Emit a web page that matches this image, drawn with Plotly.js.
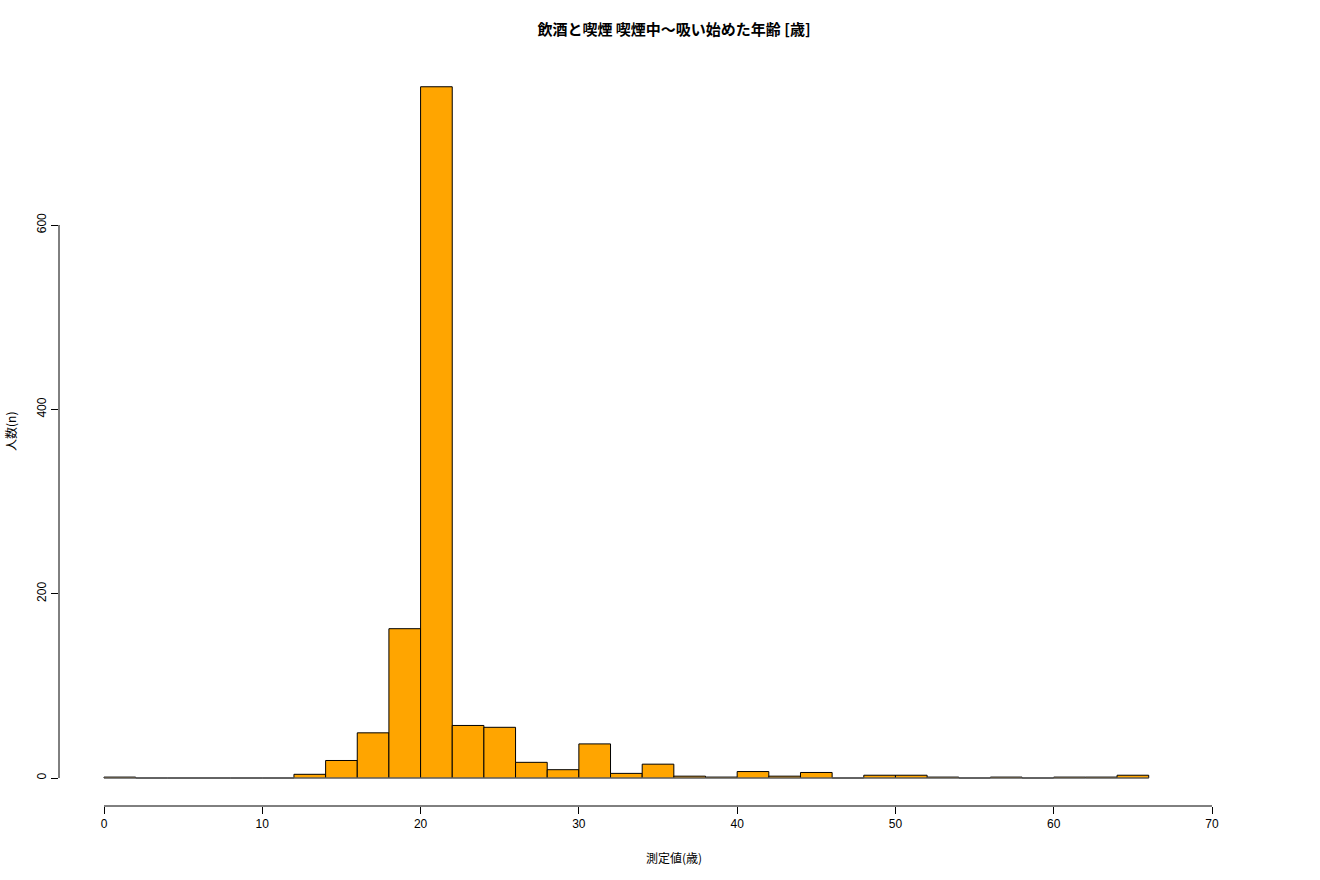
<!DOCTYPE html>
<html><head><meta charset="utf-8">
<script src="https://cdn.plot.ly/plotly-3.0.1.min.js"></script>
<style>html,body{margin:0;padding:0;background:#fff}#chart{width:1320px;height:880px}</style>
</head><body><div id="chart"></div>
<script>
const binStart = 0;
const binWidth = 2;
const counts = [1,0,0,0,0,0,4,19,49,162,750,57,55,17,9,37,5,15,2,1,7,2,6,0,3,3,1,0,1,0,1,1,3];
const xTicks = [0,10,20,30,40,50,60,70];
const yTicks = [0,200,400,600];
const titleText = "飲酒と喫煙 喫煙中〜吸い始めた年齢 [歳]";
const xTitle = "測定値(歳)";
const yTitle = "人数(n)";

const centers = counts.map((_, i) => binStart + binWidth * (i + 0.5));
const binEnd = binStart + binWidth * counts.length;
const font = "Liberation Sans, Arial, Noto Sans CJK JP, sans-serif";
const jfont = "Noto Sans CJK JP, Liberation Sans, sans-serif";

const traces = [
  {type:'scatter', mode:'lines', x:[binStart, binEnd], y:[0,0], line:{color:'#888', width:1}, hoverinfo:'skip'},
  {type:'bar', x:centers, y:counts, width:binWidth,
   marker:{color:'#FFA500', line:{color:'#000', width:1}}}
];

const layout = {
  width:1320, height:880, showlegend:false,
  paper_bgcolor:'#fff', plot_bgcolor:'#fff',
  margin:{l:59, r:90, t:59, b:74, pad:0},
  bargap:0,
  title:{text:'<b>'+titleText+'</b>', font:{family:jfont, size:15, color:'#000'}, x:674/1320, xanchor:'center', xref:'container', y:1-30/880, yanchor:'middle', yref:'container'},
  xaxis:{range:[-45/15.829, (1230-104)/15.829], tickvals:xTicks, ticks:'outside', ticklen:7, tickcolor:'#000', tickwidth:1,
         showline:false, showgrid:false, zeroline:false, tickfont:{family:font, size:12, color:'#000'}, fixedrange:true},
  yaxis:{range:[-28/0.92167, 719/0.92167], tickvals:yTicks, ticks:'outside', ticklen:7, tickcolor:'#000', tickwidth:1,
         showline:false, showgrid:false, zeroline:false, tickangle:-90, tickfont:{family:font, size:12, color:'#000'}, fixedrange:true},
  shapes:[
    {type:'line', xref:'x', yref:'paper', x0:xTicks[0], x1:xTicks[xTicks.length-1], y0:0, y1:0, line:{color:'#000', width:1}},
    {type:'line', xref:'paper', yref:'y', x0:0, x1:0, y0:yTicks[0], y1:yTicks[yTicks.length-1], line:{color:'#000', width:1}}
  ],
  annotations:[
    {text:xTitle, xref:'paper', yref:'paper', x:(674-59)/(1320-59-90), y:-51/747, xanchor:'center', yanchor:'middle', showarrow:false, font:{family:jfont, size:12, color:'#000'}},
    {text:yTitle, xref:'paper', yref:'paper', x:-49/1171, y:(806-432)/747, xanchor:'center', yanchor:'middle', textangle:-90, showarrow:false, font:{family:jfont, size:12, color:'#000'}}
  ]
};
Plotly.newPlot('chart', traces, layout, {displayModeBar:false, staticPlot:true});
</script></body></html>
